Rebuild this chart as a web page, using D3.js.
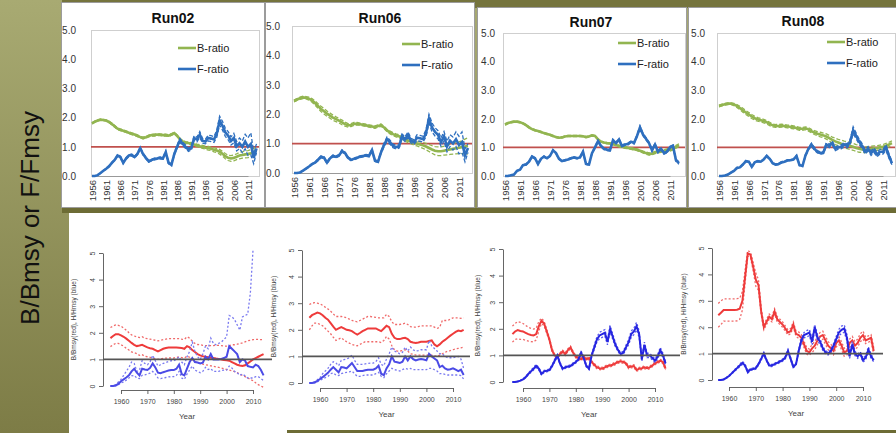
<!DOCTYPE html>
<html><head><meta charset="utf-8">
<script src="https://cdn.jsdelivr.net/npm/d3@7"></script>
<style>body{margin:0;background:#fff}svg{display:block}</style>
</head><body>
<svg id="c" width="896" height="433"></svg>
<script>
// ---------------- DATA ----------------
const years = d3.range(1956, 2015); // 1956..2014
const runNames = ["Run02", "Run06", "Run07", "Run08"];
const legendLabels = ["B-ratio", "F-ratio"];
const topYTicks = [0, 1, 2, 3, 4, 5];
const topYearTicks = [1956, 1961, 1966, 1971, 1976, 1981, 1986, 1991, 1996, 2001, 2006, 2011];
const botYTicks = [0, 1, 2, 3, 4, 5];
const botYearTicks = [1960, 1970, 1980, 1990, 2000, 2010];
const sideTitle = "B/Bmsy or F/Fmsy";
const botYTitle = "B/Bmsy(red), H/Hmsy (blue)";
const botXTitle = "Year";

// top row (Excel) : B-ratio, F-ratio and half-width of dashed bands
const t2B = [1.80,1.86,1.90,1.93,1.92, 1.90,1.85,1.78,1.70,1.62, 1.58,1.55,1.52,1.48,1.45, 1.42,1.38,1.33,1.30,1.33, 1.37,1.40,1.40,1.42,1.41, 1.40,1.40,1.38,1.42,1.47, 1.38,1.26,1.18,1.15,1.13, 1.10,1.08,1.05,1.02,1.00, 0.97,0.95,0.93,0.90,0.87, 0.83,0.76,0.68,0.62,0.60, 0.62,0.66,0.70,0.72,0.74, 0.75,0.78,0.82,0.88];
const t2Bhw = [.02,.02,.02,.02,.02, .02,.02,.03,.03,.03, .03,.03,.03,.03,.03, .03,.03,.03,.03,.03, .03,.03,.03,.03,.03, .03,.03,.03,.03,.03, .03,.03,.03,.03,.04, .04,.04,.04,.05,.05, .05,.06,.06,.07,.07, .08,.08,.09,.09,.10, .10,.10,.11,.11,.12, .12,.12,.12,.12];
const t2F = [0.00,0.00,0.03,0.10,0.18, 0.25,0.33,0.45,0.55,0.70, 0.65,0.45,0.60,0.70,0.72, 0.65,0.75,0.95,0.75,0.62, 0.50,0.55,0.58,0.60,0.62, 0.60,0.82,0.45,0.38,0.75, 1.00,1.22,1.10,1.00,0.90, 0.95,1.30,1.25,1.42,1.20, 1.18,1.30,1.28,1.25,1.45, 1.90,1.72,1.50,1.38,1.20, 1.30,1.02,1.12,1.00,1.18, 1.00,1.10,0.62,0.95];
const t2Fhw = [0,0,0,.01,.01, .02,.02,.02,.02,.03, .03,.03,.03,.03,.03, .03,.03,.04,.03,.03, .03,.03,.03,.03,.03, .03,.04,.03,.03,.04, .06,.07,.06,.06,.06, .06,.08,.08,.10,.08, .08,.10,.10,.10,.12, .15,.15,.14,.14,.14, .16,.16,.18,.20,.25, .30,.38,.20,.15];

const t6B = [2.45,2.50,2.54,2.57,2.56, 2.53,2.47,2.38,2.28,2.18, 2.10,2.02,1.95,1.88,1.83, 1.78,1.72,1.66,1.62,1.63, 1.67,1.68,1.66,1.64,1.62, 1.60,1.58,1.56,1.60,1.63, 1.55,1.45,1.38,1.32,1.28, 1.25,1.20,1.15,1.10,1.07, 1.03,1.00,0.97,0.94,0.90, 0.85,0.80,0.76,0.74,0.74, 0.76,0.78,0.80,0.82,0.84, 0.86,0.88,0.90,0.92];
const t6Bhw = [.03,.03,.04,.04,.04, .05,.06,.07,.08,.09, .09,.09,.09,.09,.08, .08,.08,.07,.06,.05, .05,.04,.04,.04,.04, .04,.04,.04,.04,.04, .04,.04,.05,.05,.05, .05,.06,.06,.07,.07, .08,.08,.09,.10,.11, .12,.13,.14,.15,.15, .15,.16,.17,.18,.19, .20,.22,.25,.28];
const t6F = [0.00,0.00,0.02,0.08,0.15, 0.22,0.30,0.35,0.45,0.55, 0.52,0.35,0.50,0.58,0.55, 0.60,0.75,0.68,0.52,0.45, 0.48,0.52,0.55,0.58,0.60, 0.58,0.78,0.42,0.38,0.70, 0.95,1.15,1.05,0.92,0.88, 0.90,1.25,1.15,1.30,1.10, 1.05,1.20,1.18,1.15,1.35, 1.85,1.55,1.40,1.30,1.05, 1.25,0.90,1.10,1.00,1.15, 0.95,1.05,0.60,0.85];
const t6Fhw = [0,0,0,.01,.01, .02,.02,.02,.03,.03, .03,.03,.03,.03,.03, .03,.04,.03,.03,.03, .03,.03,.03,.03,.03, .03,.04,.03,.03,.04, .06,.08,.07,.06,.06, .06,.08,.08,.10,.08, .08,.10,.10,.10,.12, .15,.15,.14,.14,.14, .16,.18,.20,.22,.25, .30,.35,.22,.15];

const t7B = [1.80,1.85,1.88,1.90,1.90, 1.88,1.84,1.78,1.70,1.64, 1.60,1.57,1.54,1.50,1.47, 1.44,1.40,1.36,1.34,1.35, 1.38,1.40,1.40,1.40,1.40, 1.40,1.39,1.36,1.38,1.42, 1.40,1.28,1.20,1.17,1.15, 1.14,1.12,1.08,1.05,1.02, 1.00,0.98,0.96,0.94,0.92, 0.88,0.84,0.80,0.77,0.78, 0.82,0.85,0.87,0.88,0.90, 0.92,0.96,1.02,1.08];
const t7Bhw = [.02,.02,.02,.02,.02, .02,.02,.02,.02,.02, .02,.02,.02,.02,.02, .02,.02,.02,.02,.02, .02,.02,.02,.02,.02, .02,.02,.02,.02,.02, .02,.02,.02,.02,.02, .02,.02,.02,.03,.03, .03,.03,.03,.03,.03, .03,.03,.04,.04,.04, .04,.04,.04,.04,.05, .05,.05,.05,.05];
const t7F = [0.00,0.00,0.03,0.05,0.18, 0.22,0.38,0.40,0.50,0.68, 0.62,0.42,0.60,0.68,0.62, 0.70,0.90,0.80,0.60,0.52, 0.55,0.58,0.62,0.65,0.62, 0.65,0.85,0.42,0.40,0.80, 1.00,1.22,1.05,0.95,0.92, 0.90,1.25,1.15,1.28,1.05, 1.10,1.12,1.20,1.15,1.40, 1.70,1.45,1.30,1.15,0.90, 1.10,0.85,0.95,0.80,0.85, 1.00,1.05,0.55,0.45];
const t7Fhw = [0,0,0,.01,.01, .01,.02,.02,.02,.02, .02,.02,.02,.02,.02, .02,.02,.02,.02,.02, .02,.02,.02,.02,.02, .02,.02,.02,.02,.02, .03,.03,.03,.03,.03, .03,.03,.03,.03,.03, .03,.03,.03,.03,.04, .05,.04,.04,.04,.04, .04,.04,.04,.04,.04, .04,.04,.04,.04];

const t8B = [2.45,2.48,2.51,2.53,2.53, 2.50,2.45,2.38,2.30,2.22, 2.15,2.08,2.02,1.98,1.95, 1.92,1.88,1.82,1.77,1.75, 1.75,1.76,1.75,1.73,1.72, 1.70,1.68,1.65,1.65,1.67, 1.63,1.57,1.52,1.48,1.45, 1.42,1.38,1.32,1.26,1.21, 1.17,1.13,1.10,1.08,1.05, 1.02,0.98,0.95,0.93,0.92, 0.93,0.95,0.97,0.98,1.00, 1.02,1.06,1.10,1.15];
const t8Bhw = [.03,.03,.03,.03,.03, .04,.05,.06,.07,.07, .07,.07,.07,.06,.06, .06,.06,.06,.05,.05, .05,.05,.05,.05,.05, .05,.05,.05,.05,.05, .06,.06,.07,.07,.08, .08,.09,.10,.10,.11, .11,.12,.12,.12,.12, .12,.12,.12,.11,.10, .10,.09,.08,.08,.08, .08,.08,.08,.08];
const t8F = [0.00,0.00,0.02,0.05,0.12, 0.18,0.28,0.30,0.40,0.52, 0.50,0.32,0.48,0.52,0.50, 0.58,0.70,0.60,0.45,0.40, 0.42,0.48,0.50,0.55,0.55, 0.58,0.70,0.38,0.35,0.72, 0.95,1.10,0.95,0.85,0.80, 0.82,1.10,1.05,1.15,0.95, 1.00,1.02,1.10,1.05,1.20, 1.60,1.40,1.20,1.05,0.85, 0.95,0.80,0.90,0.75,0.85, 0.85,1.00,0.70,0.45];
const t8Fhw = [0,0,0,.01,.01, .01,.02,.02,.02,.02, .02,.02,.02,.02,.02, .02,.03,.02,.02,.02, .02,.02,.02,.02,.02, .02,.03,.02,.02,.03, .04,.05,.05,.04,.04, .04,.06,.06,.07,.06, .06,.07,.07,.07,.08, .12,.10,.09,.08,.08, .08,.08,.08,.08,.08, .08,.10,.08,.06];

// bottom row (R plots): B/Bmsy (red) and H/Hmsy (blue) with lower / upper dotted bounds
const b2B  = [1.80,1.88,1.95,1.95,1.90, 1.85,1.78,1.70,1.62,1.55, 1.50,1.52,1.55,1.50,1.45, 1.42,1.40,1.35,1.30,1.35, 1.40,1.43,1.45,1.45,1.45, 1.45,1.44,1.43,1.40,1.50, 1.45,1.35,1.28,1.20,1.15, 1.12,1.10,1.08,1.06,1.05, 1.03,1.02,1.00,0.98,0.97, 0.95,0.90,0.85,0.80,0.77, 0.75,0.78,0.85,0.92,1.00, 1.05,1.10,1.15,1.20];
const b2Blo = [1.48,1.55,1.60,1.60,1.55, 1.50,1.42,1.35,1.28,1.25, 1.22,1.15,1.18,1.12,1.10, 1.08,1.05,1.02,1.00,1.02, 1.04,1.05,1.05,1.06,1.05, 1.08,1.08,1.07,1.05,1.12, 1.08,0.98,0.92,0.88,0.85, 0.82,0.80,0.78,0.76,0.74, 0.72,0.70,0.68,0.65,0.62, 0.60,0.57,0.54,0.50,0.45, 0.40,0.35,0.30,0.25,0.20, 0.12,0.05,0.00,-0.05];
const b2Bhi = [2.20,2.25,2.30,2.28,2.25, 2.18,2.10,2.00,1.92,1.88, 1.85,1.82,1.85,1.80,1.78, 1.76,1.74,1.72,1.70,1.72, 1.74,1.76,1.78,1.78,1.78, 1.78,1.78,1.76,1.75,1.85, 1.80,1.68,1.60,1.56,1.55, 1.53,1.52,1.52,1.52,1.52, 1.53,1.53,1.52,1.50,1.50, 1.52,1.55,1.55,1.57,1.60, 1.62,1.66,1.70,1.72,1.74, 1.75,1.75,1.74,1.75];
const b2F  = [0.00,0.00,0.02,0.08,0.18, 0.25,0.32,0.40,0.55,0.65, 0.50,0.40,0.65,0.62,0.60, 0.68,0.85,0.70,0.50,0.48, 0.52,0.55,0.58,0.60,0.60, 0.65,0.80,0.45,0.40,0.65, 0.90,1.05,0.90,0.88,0.85, 0.88,1.10,1.00,1.20,1.00, 1.00,1.00,1.02,1.05,1.10, 1.50,1.40,1.30,1.20,0.90, 1.00,0.95,0.75,0.72,0.70, 0.80,0.75,0.60,0.40];
const b2Flo = [0.00,0.00,0.01,0.05,0.12, 0.15,0.22,0.30,0.38,0.40, 0.30,0.28,0.40,0.42,0.45, 0.48,0.55,0.45,0.30,0.28, 0.30,0.32,0.34,0.35,0.35, 0.40,0.55,0.30,0.25,0.45, 0.60,0.75,0.60,0.55,0.50, 0.55,0.70,0.62,0.65,0.55, 0.55,0.55,0.58,0.60,0.60, 0.75,0.68,0.55,0.50,0.40, 0.45,0.38,0.30,0.30,0.30, 0.35,0.35,0.28,0.20];
const b2Fhi = [0.00,0.00,0.05,0.15,0.25, 0.40,0.55,0.70,0.90,0.85, 0.55,0.60,0.95,0.85,0.80, 0.90,1.15,0.95,0.75,0.80, 0.85,0.88,0.92,0.95,0.95, 1.00,1.10,0.90,0.80,1.10, 1.30,1.65,1.30,1.10,1.00, 1.20,1.50,1.40,1.80,1.60, 1.55,1.60,1.65,1.75,1.85, 2.65,2.60,2.50,2.30,2.10, 2.60,2.65,2.70,3.50,5.10, null,null,null,null];

const b6B  = [2.45,2.55,2.60,2.65,2.62, 2.55,2.45,2.38,2.25,2.12, 2.00,2.05,2.10,2.05,2.00, 1.98,1.95,1.88,1.82,1.88, 1.95,2.00,2.05,2.05,2.05, 2.05,2.00,1.95,2.05,2.15, 2.10,1.85,1.70,1.65,1.65, 1.68,1.70,1.65,1.55,1.52, 1.50,1.52,1.55,1.55,1.55, 1.58,1.60,1.45,1.38,1.45, 1.55,1.62,1.70,1.78,1.85, 1.92,1.97,1.95,2.00];
const b6Blo = [2.00,2.15,2.25,2.25,2.20, 2.15,2.05,1.95,1.85,1.72, 1.60,1.65,1.70,1.62,1.55, 1.50,1.45,1.42,1.40,1.45, 1.50,1.55,1.55,1.55,1.55, 1.55,1.55,1.52,1.60,1.75, 1.65,1.40,1.25,1.20,1.20, 1.22,1.25,1.20,1.10,1.08, 1.05,1.05,1.05,1.05,1.05, 1.05,1.05,1.02,1.00,1.05, 1.10,1.15,1.20,1.22,1.25, 1.28,1.30,1.32,1.35];
const b6Bhi = [2.95,3.00,3.02,3.00,2.98, 2.92,2.85,2.78,2.70,2.60, 2.50,2.50,2.50,2.48,2.45, 2.40,2.35,2.32,2.30,2.35, 2.40,2.45,2.50,2.50,2.48, 2.47,2.45,2.45,2.45,2.58, 2.50,2.30,2.20,2.20,2.20, 2.22,2.25,2.20,2.12,2.10, 2.10,2.12,2.15,2.15,2.15, 2.15,2.15,2.10,2.05,2.10, 2.35,2.35,2.35,2.40,2.45, 2.45,2.45,2.43,2.45];
const b6F  = [0.00,0.00,0.02,0.08,0.15, 0.22,0.30,0.38,0.50,0.60, 0.50,0.40,0.60,0.58,0.55, 0.65,0.75,0.60,0.45,0.45, 0.45,0.48,0.50,0.50,0.50, 0.55,0.65,0.35,0.30,0.55, 0.70,1.00,0.80,0.78,0.75, 0.80,1.00,0.85,1.00,0.90, 0.85,0.88,0.90,0.88,0.85, 1.10,1.00,0.92,0.85,0.60, 0.65,0.55,0.50,0.52,0.55, 0.50,0.45,0.50,0.30];
const b6Flo = [0.00,0.00,0.01,0.04,0.10, 0.15,0.20,0.25,0.35,0.38, 0.30,0.28,0.35,0.38,0.40, 0.42,0.45,0.35,0.25,0.25, 0.28,0.30,0.30,0.30,0.30, 0.35,0.40,0.25,0.20,0.35, 0.45,0.55,0.50,0.48,0.45, 0.50,0.55,0.52,0.55,0.50, 0.50,0.50,0.50,0.50,0.50, 0.55,0.55,0.50,0.45,0.35, 0.35,0.32,0.30,0.30,0.30, 0.30,0.30,0.28,0.15];
const b6Fhi = [0.00,0.00,0.05,0.12,0.20, 0.35,0.45,0.55,0.70,0.80, 0.75,0.65,0.85,0.88,0.90, 0.95,1.05,0.85,0.70,0.70, 0.70,0.72,0.74,0.75,0.75, 0.80,0.95,0.70,0.65,0.90, 1.10,1.35,1.20,1.15,1.10, 1.15,1.35,1.20,1.35,1.25, 1.20,1.22,1.25,1.25,1.25, 1.60,1.40,1.30,1.20,1.10, 1.10,1.00,0.95,0.95,0.95, 0.98,1.00,0.90,0.55];

const b7B  = [1.80,1.90,1.95,1.92,1.90, 1.85,1.80,1.77,1.75,1.80, 2.10,2.30,2.20,1.90,1.60, 1.20,1.00,0.95,1.05,1.15, 1.05,1.20,1.30,1.10,0.95, 0.90,0.85,0.95,0.85,0.90, 0.75,0.65,0.55,0.52,0.50, 0.55,0.60,0.62,0.65,0.70, 0.75,0.78,0.75,0.70,0.55, 0.58,0.60,0.45,0.50,0.52, 0.55,0.52,0.55,0.62,0.70, 0.75,0.80,0.75,0.50];
const b7Bhw = [.30,.30,.32,.32,.30, .28,.26,.25,.24,.22, .18,.10,.08,.08,.06, .06,.05,.05,.05,.05, .05,.05,.05,.05,.05, .05,.05,.05,.05,.05, .05,.05,.05,.05,.05, .05,.05,.05,.05,.05, .05,.05,.05,.05,.05, .05,.05,.05,.05,.05, .05,.05,.05,.05,.05, .05,.05,.05,.05];
const b7F  = [0.00,0.00,0.02,0.05,0.10, 0.18,0.30,0.40,0.50,0.60, 0.50,0.30,0.40,0.42,0.45, 0.60,0.80,1.00,0.70,0.50, 0.55,0.58,0.60,0.68,0.75, 0.85,1.10,0.90,0.60,0.50, 1.00,1.30,1.60,1.75,1.80, 1.85,1.50,2.00,1.70,1.40, 1.20,1.05,1.10,1.30,1.50, 1.80,1.90,2.10,1.80,0.85, 1.40,1.00,1.00,0.90,0.80, 0.95,1.20,1.00,0.70];
const b7Fhw = [.00,.00,.01,.01,.02, .02,.03,.04,.05,.06, .05,.04,.04,.04,.04, .04,.05,.05,.04,.04, .04,.04,.04,.04,.04, .05,.06,.05,.04,.04, .06,.08,.10,.12,.12, .12,.10,.12,.10,.08, .06,.05,.06,.08,.10, .12,.12,.14,.12,.08, .10,.08,.08,.07,.07, .08,.10,.08,.06];

const b8B  = [2.45,2.55,2.65,2.65,2.65, 2.65,2.65,2.66,2.70,3.00, 3.90,4.80,4.75,4.30,3.80, 3.60,2.60,2.00,2.20,2.40, 2.30,2.60,2.30,2.20,2.10, 1.95,1.80,1.85,2.10,1.75, 1.70,1.60,1.35,1.10,1.05, 1.20,1.30,1.50,1.65,1.70, 1.50,1.30,1.20,1.10,1.40, 1.50,1.30,1.05,1.10,1.40, 1.50,1.30,1.40,1.60,1.70, 1.50,1.55,1.60,1.10];
const b8Bhw = [.45,.45,.42,.42,.42, .42,.42,.42,.40,.35, .25,.10,.10,.15,.25, .20,.12,.10,.10,.10, .10,.10,.10,.10,.10, .10,.10,.10,.10,.10, .12,.12,.12,.12,.12, .15,.15,.15,.15,.15, .15,.15,.15,.15,.15, .15,.15,.15,.15,.15, .15,.15,.15,.15,.15, .12,.12,.12,.12];
const b8F  = [0.00,0.00,0.02,0.08,0.15, 0.25,0.35,0.45,0.55,0.65, 0.55,0.30,0.40,0.42,0.45, 0.60,0.80,1.00,0.75,0.55, 0.55,0.60,0.65,0.70,0.75, 0.85,1.10,0.80,0.50,0.60, 1.10,1.50,1.70,1.75,1.80, 1.45,2.00,1.60,1.45,1.20, 1.05,1.00,1.10,1.30,1.55, 1.80,1.90,1.95,1.60,0.90, 1.35,1.00,0.90,1.00,0.75, 0.85,1.15,0.90,0.75];
const b8Fhw = [.00,.00,.01,.01,.02, .02,.03,.04,.05,.06, .05,.04,.04,.04,.04, .04,.05,.05,.04,.04, .04,.04,.04,.04,.04, .05,.06,.05,.04,.04, .06,.08,.10,.12,.12, .12,.10,.12,.10,.08, .06,.05,.06,.08,.10, .12,.14,.14,.12,.08, .10,.08,.08,.07,.07, .08,.10,.08,.06];

// ---------------- HELPERS ----------------
const plus = (m, hw) => m.map((v, i) => v == null ? null : v + hw[i]);
const minus = (m, hw) => m.map((v, i) => v == null ? null : v - hw[i]);

const topRuns = [
  {B: t2B, Bhw: t2Bhw, F: t2F, Fhw: t2Fhw},
  {B: t6B, Bhw: t6Bhw, F: t6F, Fhw: t6Fhw},
  {B: t7B, Bhw: t7Bhw, F: t7F, Fhw: t7Fhw},
  {B: t8B, Bhw: t8Bhw, F: t8F, Fhw: t8Fhw}
];
const botRuns = [
  {B: b2B, Blo: b2Blo, Bhi: b2Bhi, F: b2F, Flo: b2Flo, Fhi: b2Fhi},
  {B: b6B, Blo: b6Blo, Bhi: b6Bhi, F: b6F, Flo: b6Flo, Fhi: b6Fhi},
  {B: b7B, Blo: minus(b7B, b7Bhw), Bhi: plus(b7B, b7Bhw), F: b7F, Flo: minus(b7F, b7Fhw), Fhi: plus(b7F, b7Fhw)},
  {B: b8B, Blo: minus(b8B, b8Bhw), Bhi: plus(b8B, b8Bhw), F: b8F, Flo: minus(b8F, b8Fhw), Fhi: plus(b8F, b8Fhw)}
];

// ---------------- LAYOUT ----------------
const topLayout = [
  {bx0: 61, by0: 2, bx1: 265, by1: 208, tx: 173, ty: 18, pl: 91, pr: 259, y5: 30, y0: 176, x56: 92, x11: 248, labx: 76, lx: 178, ly: 48},
  {bx0: 265, by0: 2, bx1: 475, by1: 208, tx: 380, ty: 18, pl: 292, pr: 472, y5: 26, y0: 173, x56: 294, x11: 459, labx: 280, lx: 402, ly: 44},
  {bx0: 477, by0: 7, bx1: 687, by1: 208, tx: 591, ty: 22, pl: 503, pr: 685, y5: 33, y0: 176, x56: 505, x11: 670, labx: 495, lx: 618, ly: 43},
  {bx0: 688, by0: 7, bx1: 897, by1: 208, tx: 803, ty: 21, pl: 717, pr: 895, y5: 33, y0: 176, x56: 719, x11: 883, labx: 705, lx: 827, ly: 42}
];
const botLayout = [
  {ax: 103, y0: 386, y5: 253, x60: 121, x10: 253, xa: 390, hr: 272, lab: 74},
  {ax: 302, y0: 383, y5: 250, x60: 320, x10: 453, xa: 388, hr: 470, lab: 274},
  {ax: 503, y0: 382, y5: 249, x60: 523, x10: 655, xa: 388, hr: 680, lab: 478},
  {ax: 712, y0: 380, y5: 248, x60: 729, x10: 863, xa: 387, hr: 883, lab: 684}
];

const svg = d3.select("#c");
const defs = svg.append("defs");
const grad = defs.append("linearGradient").attr("id", "olive").attr("x1", 0).attr("y1", 0).attr("x2", 0).attr("y2", 1);
grad.append("stop").attr("offset", "0%").attr("stop-color", "#a8aa72");
grad.append("stop").attr("offset", "100%").attr("stop-color", "#7d7c46");
svg.append("rect").attr("width", 896).attr("height", 433).attr("fill", "url(#olive)");
svg.append("rect").attr("x", 62).attr("y", 0).attr("width", 834).attr("height", 8).attr("fill", "#75743d");
// bottom white area
svg.append("rect").attr("x", 69).attr("y", 213).attr("width", 827).attr("height", 220).attr("fill", "#ffffff");
svg.append("rect").attr("x", 287).attr("y", 430).attr("width", 609).attr("height", 3).attr("fill", "#6d6c35");
svg.append("rect").attr("x", 62).attr("y", 208).attr("width", 834).attr("height", 5).attr("fill", "#6d6c35");

const FONT = "Liberation Sans, Arial, sans-serif";

// side title
svg.append("text").attr("transform", "translate(39,218) rotate(-90)")
  .attr("text-anchor", "middle").attr("font-family", FONT)
  .attr("font-size", 26).attr("fill", "#111").text(sideTitle);

// ---------------- TOP PANELS ----------------
topLayout.forEach((L, k) => {
  const run = topRuns[k];
  const g = svg.append("g");
  g.append("rect").attr("x", L.bx0 + 0.5).attr("y", L.by0 + 0.5)
    .attr("width", L.bx1 - L.bx0 - 1).attr("height", L.by1 - L.by0 - 1)
    .attr("fill", "#fff").attr("stroke", "#9c9c9c");
  const x = d3.scaleLinear().domain([1956, 2011]).range([L.x56, L.x11]);
  const y = d3.scaleLinear().domain([0, 5]).range([L.y0, L.y5]);
  g.append("rect").attr("x", L.pl + 0.5).attr("y", L.y5 + 0.5).attr("width", L.pr - L.pl).attr("height", L.y0 - L.y5)
    .attr("fill", "none").attr("stroke", "#cfcfcf");
  g.append("text").attr("x", L.tx).attr("y", L.ty).attr("dy", "0.35em").attr("text-anchor", "middle")
    .attr("font-family", FONT).attr("font-weight", "bold").attr("font-size", 14).attr("fill", "#111").text(runNames[k]);
  const ya = g.append("g").attr("transform", `translate(${L.labx + 3},0)`)
    .call(d3.axisLeft(y).tickValues(topYTicks).tickFormat(d3.format(".1f")).tickSize(0).tickPadding(3));
  ya.select(".domain").remove();
  ya.selectAll("text").attr("font-family", FONT).attr("font-size", 10).attr("fill", "#333");
  const xa = g.append("g").attr("transform", `translate(0,${L.y0})`)
    .call(d3.axisBottom(x).tickValues(topYearTicks).tickFormat(d3.format("d")).tickSize(0));
  xa.select(".domain").attr("stroke", "#999");
  xa.selectAll("text").attr("font-family", FONT).attr("font-size", 9.5).attr("fill", "#333")
    .attr("transform", "rotate(-90)").attr("text-anchor", "end").attr("x", -4).attr("y", 0).attr("dy", "0.35em");
  g.append("line").attr("x1", L.pl).attr("x2", L.pr).attr("y1", y(1)).attr("y2", y(1))
    .attr("stroke", "#c0504d").attr("stroke-width", 1.8);
  const line = d3.line().defined(d => d[1] != null).x(d => x(d[0])).y(d => y(d[1]));
  const pts = arr => years.map((yr, i) => [yr, arr[i]]);
  const green = "#92b550", blue = "#2e6fbf";
  [plus(run.B, run.Bhw), minus(run.B, run.Bhw)].forEach(s =>
    g.append("path").attr("d", line(pts(s))).attr("fill", "none").attr("stroke", green).attr("stroke-width", 1.3).attr("stroke-dasharray", "4,2"));
  g.append("path").attr("d", line(pts(run.B))).attr("fill", "none").attr("stroke", green).attr("stroke-width", 2.6);
  [plus(run.F, run.Fhw), minus(run.F, run.Fhw)].forEach(s =>
    g.append("path").attr("d", line(pts(s))).attr("fill", "none").attr("stroke", blue).attr("stroke-width", 1.3).attr("stroke-dasharray", "4,2"));
  g.append("path").attr("d", line(pts(run.F))).attr("fill", "none").attr("stroke", blue).attr("stroke-width", 2.6);
  [green, blue].forEach((c, j) => {
    const ly = L.ly + j * 21;
    g.append("line").attr("x1", L.lx).attr("x2", L.lx + 18).attr("y1", ly).attr("y2", ly).attr("stroke", c).attr("stroke-width", 2.6);
    g.append("text").attr("x", L.lx + 19).attr("y", ly).attr("dy", "0.35em").attr("font-family", FONT)
      .attr("font-size", 11).attr("fill", "#222").text(legendLabels[j]);
  });
});

// ---------------- BOTTOM PANELS ----------------
botLayout.forEach((L, k) => {
  const run = botRuns[k];
  const g = svg.append("g");
  const x = d3.scaleLinear().domain([1960, 2010]).range([L.x60, L.x10]);
  const y = d3.scaleLinear().domain([0, 5]).range([L.y0, L.y5]);
  const line = d3.line().defined(d => d[1] != null).x(d => x(d[0])).y(d => y(d[1]));
  const pts = arr => years.map((yr, i) => [yr, arr[i]]);
  const red = "#ee3b3b", redL = "#f06a6a", blu = k < 2 ? "#4b4be6" : "#2626e0", bluL = k < 2 ? "#7a7af0" : "#5a5aee";
  const ya = g.append("g").attr("transform", `translate(${L.ax},0)`)
    .call(d3.axisLeft(y).tickValues(botYTicks).tickSize(4).tickSizeOuter(0).tickFormat(d3.format("d")));
  ya.selectAll("path,line").attr("stroke", "#555").attr("stroke-width", 0.9);
  ya.selectAll("text").attr("font-family", FONT).attr("font-size", 7).attr("fill", "#444")
    .attr("x", 0).attr("y", 0).attr("dy", 0).attr("text-anchor", "middle")
    .attr("transform", "translate(-8,0) rotate(-90)");
  const xa = g.append("g").attr("transform", `translate(0,${L.xa})`)
    .call(d3.axisBottom(x).tickValues(botYearTicks).tickSize(4).tickSizeOuter(0).tickFormat(d3.format("d")));
  xa.selectAll("path,line").attr("stroke", "#555").attr("stroke-width", 0.9);
  xa.selectAll("text").attr("font-family", FONT).attr("font-size", 7).attr("fill", "#444").attr("y", 9);
  g.append("text").attr("x", (L.x60 + L.x10) / 2).attr("y", L.xa + 29).attr("text-anchor", "middle")
    .attr("font-family", FONT).attr("font-size", 8).attr("fill", "#444").text(botXTitle);
  g.append("text").attr("transform", `translate(${L.lab},${(L.y0 + L.y5) / 2}) rotate(-90)`).attr("dy", "0.35em")
    .attr("text-anchor", "middle").attr("font-family", FONT).attr("font-size", 6.5).attr("fill", "#444").text(botYTitle);
  [run.Blo, run.Bhi].forEach(s => g.append("path").attr("d", line(pts(s))).attr("fill", "none")
    .attr("stroke", redL).attr("stroke-width", 1.3).attr("stroke-dasharray", "2,2"));
  g.append("path").attr("d", line(pts(run.B))).attr("fill", "none").attr("stroke", red).attr("stroke-width", 2);
  [run.Flo, run.Fhi].forEach(s => g.append("path").attr("d", line(pts(s))).attr("fill", "none")
    .attr("stroke", bluL).attr("stroke-width", 1.3).attr("stroke-dasharray", "2,2"));
  g.append("path").attr("d", line(pts(run.F))).attr("fill", "none").attr("stroke", blu).attr("stroke-width", 2);
  g.append("line").attr("x1", L.ax).attr("x2", L.hr).attr("y1", y(1)).attr("y2", y(1))
    .attr("stroke", "#555").attr("stroke-width", 1.8);
});
</script>
</body></html>
